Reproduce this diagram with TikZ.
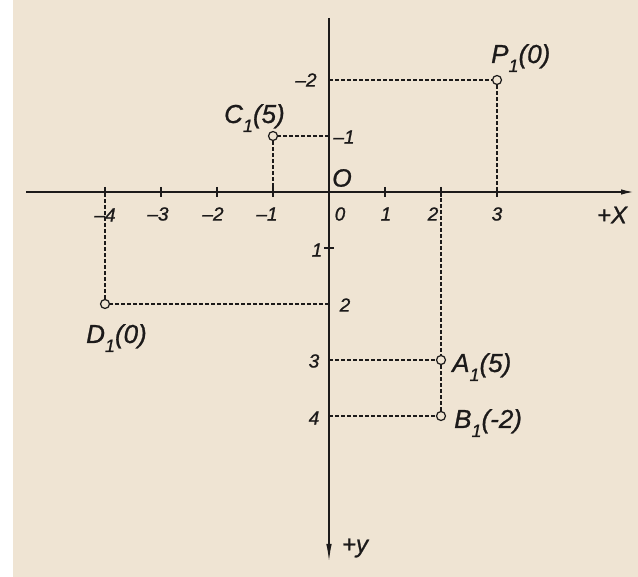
\documentclass[tikz,border=0pt]{standalone}
\usepackage{fontspec}
\setmainfont{Liberation Sans}
\newfontfamily\labfont{Liberation Sans Italic}[FakeBold=0.9]
\usetikzlibrary{arrows.meta}
\definecolor{paper}{RGB}{239,228,211}
\definecolor{ink}{RGB}{28,26,26}
\newcommand\ptlabel[2]{#1\raisebox{-9pt}{\fontsize{18}{18}\selectfont 1}(#2)}
\tikzset{
  axis/.style={line width=1.6pt, draw=ink},
  guide/.style={dash pattern=on 4pt off 2pt, line width=1.1pt, draw=ink},
  pnt/.style={circle, draw=ink, fill=paper, line width=1.2pt, inner sep=0pt, minimum size=9pt},
  lab/.style={font=\labfont\fontsize{26}{30}\selectfont, text=ink, inner sep=0pt},
  num/.style={font=\labfont\fontsize{19}{20}\selectfont, text=ink, inner sep=0pt},
  tck/.style={line width=1.2pt, draw=ink},
}
\begin{document}
\begin{tikzpicture}[x=1pt,y=-1pt]
\fill[white] (0,0) rectangle (638,577);
\fill[paper] (13,0) rectangle (638,577);
\useasboundingbox (0,0) rectangle (638,577);

% axes
\coordinate (xL) at (26,192);
\coordinate (xR) at (634,192);
\coordinate (yT) at (329,18);
\coordinate (yB) at (329,562);
\draw[axis,-{Latex[length=13pt,width=5.5pt]}] (xL) -- (xR);
\draw[axis,-{Latex[length=18pt,width=5.5pt]}] (yT) -- (yB);

\begin{scope}[shift={(329,192)}, x=56pt, y=-56pt]
  % ticks on x axis
  \foreach \i in {-4,-3,-2,-1,1,2,3} {
    \coordinate (tx\i) at (\i,0);
    \draw[tck] ([yshift=5pt]tx\i) -- ([yshift=-5pt]tx\i);
  }
  \coordinate (ty1) at (0,1);
  \draw[tck] ([xshift=-5pt]ty1) -- ([xshift=5pt]ty1);

  % points
  \node[pnt] (P1) at (3,-2) {};
  \node[pnt] (C1) at (-1,-1) {};
  \node[pnt] (D1) at (-4,2) {};
  \node[pnt] (A1) at (2,3) {};
  \node[pnt] (B1) at (2,4) {};

  % feet on the axes
  \coordinate (yP) at (0,-2);
  \coordinate (yC) at (0,-1);
  \coordinate (yD) at (0,2);
  \coordinate (yA) at (0,3);
  \coordinate (yB4) at (0,4);
  \coordinate (xP) at (3,0);
  \coordinate (xC) at (-1,0);
  \coordinate (xD) at (-4,0);
  \coordinate (xA) at (2,0);

  % dashed projection lines
  \draw[guide] (yP) -- (P1);
  \draw[guide] (P1) -- (xP);
  \draw[guide] (yC) -- (C1);
  \draw[guide] (C1) -- (xC);
  \draw[guide] (yD) -- (D1);
  \draw[guide] (D1) -- (xD);
  \draw[guide] (yA) -- (A1);
  \draw[guide] (xA) -- (A1);
  \draw[guide] (A1) -- (B1);
  \draw[guide] (yB4) -- (B1);
\end{scope}

% point labels
\node[lab, anchor=base west] (P1l) at (491,63) {\ptlabel{P}{0}};
\node[lab, anchor=base west] (C1l) at (224,123) {\ptlabel{C}{5}};
\node[lab, anchor=base west] (D1l) at (86,343) {\ptlabel{D}{0}};
\node[lab, anchor=base west] (A1l) at (452,372) {\ptlabel{A}{5}};
\node[lab, anchor=base west] (B1l) at (454,428) {\ptlabel{B}{-2}};

% axis names
\node[lab, font=\labfont\fontsize{25}{28}\selectfont] (Ol) at (342,178) {O};
\node[lab, font=\labfont\fontsize{24}{28}\selectfont] (Xl) at (612,215) {+X};
\node[lab, font=\labfont\fontsize{24}{28}\selectfont] (Yl) at (355,548) {+y};

% x numbers
\node[num] (nxm4) at (105,215) {–4};
\node[num] (nxm3) at (158,214) {–3};
\node[num] (nxm2) at (213,214) {–2};
\node[num] (nxm1) at (267,214) {–1};
\node[num] (nx0) at (340,214) {0};
\node[num] (nx1) at (386,214) {1};
\node[num] (nx2) at (433,214) {2};
\node[num] (nx3) at (497,214) {3};

% y numbers
\node[num] (nym2) at (306,80) {–2};
\node[num] (nym1) at (344,137) {–1};
\node[num] (ny1) at (317,250) {1};
\node[num] (ny2) at (345,305) {2};
\node[num] (ny3) at (314,361) {3};
\node[num] (ny4) at (314,418) {4};
\end{tikzpicture}
\end{document}
